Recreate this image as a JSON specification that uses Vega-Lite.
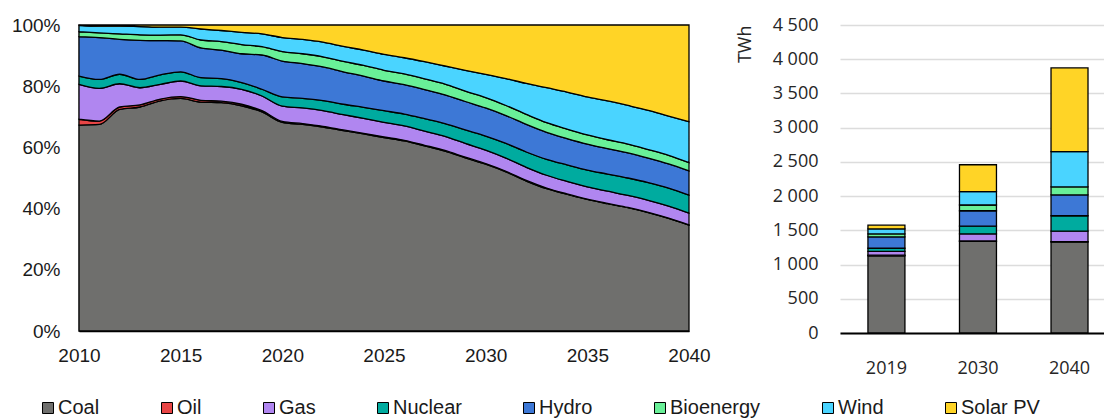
{
  "$schema": "https://vega.github.io/schema/vega-lite/v6.json",
  "background": "white",
  "padding": {"left": 11, "top": 16, "right": 0, "bottom": 0},
  "bounds": "flush",
  "spacing": 151,
  "config": {"view": {"stroke": null}, "font": "Liberation Sans"},
  "datasets": {
    "order": [
      {"source": "Coal", "rank": 1}, {"source": "Oil", "rank": 2}, {"source": "Gas", "rank": 3}, {"source": "Nuclear", "rank": 4},
      {"source": "Hydro", "rank": 5}, {"source": "Bioenergy", "rank": 6}, {"source": "Wind", "rank": 7}, {"source": "Solar PV", "rank": 8}
    ],
    "shares": [
      {"year":2010,"source":"Coal","share":67.3},{"year":2010,"source":"Oil","share":1.9},{"year":2010,"source":"Gas","share":11.4},{"year":2010,"source":"Nuclear","share":2.7},{"year":2010,"source":"Hydro","share":12.9},{"year":2010,"source":"Bioenergy","share":1.6},{"year":2010,"source":"Wind","share":2.1},{"year":2010,"source":"Solar PV","share":0.1},
      {"year":2011,"source":"Coal","share":67.5},{"year":2011,"source":"Oil","share":1.1},{"year":2011,"source":"Gas","share":10.7},{"year":2011,"source":"Nuclear","share":2.9},{"year":2011,"source":"Hydro","share":13.7},{"year":2011,"source":"Bioenergy","share":1.5},{"year":2011,"source":"Wind","share":2.2},{"year":2011,"source":"Solar PV","share":0.4},
      {"year":2012,"source":"Coal","share":72.4},{"year":2012,"source":"Oil","share":0.8},{"year":2012,"source":"Gas","share":7.6},{"year":2012,"source":"Nuclear","share":3.1},{"year":2012,"source":"Hydro","share":11.4},{"year":2012,"source":"Bioenergy","share":1.8},{"year":2012,"source":"Wind","share":2.5},{"year":2012,"source":"Solar PV","share":0.4},
      {"year":2013,"source":"Coal","share":73.2},{"year":2013,"source":"Oil","share":0.7},{"year":2013,"source":"Gas","share":5.6},{"year":2013,"source":"Nuclear","share":2.7},{"year":2013,"source":"Hydro","share":12.8},{"year":2013,"source":"Bioenergy","share":1.8},{"year":2013,"source":"Wind","share":2.7},{"year":2013,"source":"Solar PV","share":0.5},
      {"year":2014,"source":"Coal","share":75.2},{"year":2014,"source":"Oil","share":0.6},{"year":2014,"source":"Gas","share":4.8},{"year":2014,"source":"Nuclear","share":3.1},{"year":2014,"source":"Hydro","share":11.2},{"year":2014,"source":"Bioenergy","share":1.8},{"year":2014,"source":"Wind","share":2.6},{"year":2014,"source":"Solar PV","share":0.7},
      {"year":2015,"source":"Coal","share":76.0},{"year":2015,"source":"Oil","share":0.6},{"year":2015,"source":"Gas","share":5.1},{"year":2015,"source":"Nuclear","share":3.0},{"year":2015,"source":"Hydro","share":10.1},{"year":2015,"source":"Bioenergy","share":2.0},{"year":2015,"source":"Wind","share":2.5},{"year":2015,"source":"Solar PV","share":0.7},
      {"year":2016,"source":"Coal","share":74.8},{"year":2016,"source":"Oil","share":0.6},{"year":2016,"source":"Gas","share":4.7},{"year":2016,"source":"Nuclear","share":2.7},{"year":2016,"source":"Hydro","share":9.7},{"year":2016,"source":"Bioenergy","share":2.6},{"year":2016,"source":"Wind","share":3.6},{"year":2016,"source":"Solar PV","share":1.3},
      {"year":2017,"source":"Coal","share":74.6},{"year":2017,"source":"Oil","share":0.5},{"year":2017,"source":"Gas","share":4.8},{"year":2017,"source":"Nuclear","share":2.6},{"year":2017,"source":"Hydro","share":9.3},{"year":2017,"source":"Bioenergy","share":2.8},{"year":2017,"source":"Wind","share":3.6},{"year":2017,"source":"Solar PV","share":1.8},
      {"year":2018,"source":"Coal","share":73.6},{"year":2018,"source":"Oil","share":0.5},{"year":2018,"source":"Gas","share":4.9},{"year":2018,"source":"Nuclear","share":2.2},{"year":2018,"source":"Hydro","share":9.4},{"year":2018,"source":"Bioenergy","share":3.0},{"year":2018,"source":"Wind","share":4.0},{"year":2018,"source":"Solar PV","share":2.4},
      {"year":2019,"source":"Coal","share":71.6},{"year":2019,"source":"Oil","share":0.4},{"year":2019,"source":"Gas","share":4.8},{"year":2019,"source":"Nuclear","share":2.2},{"year":2019,"source":"Hydro","share":11.2},{"year":2019,"source":"Bioenergy","share":2.7},{"year":2019,"source":"Wind","share":4.2},{"year":2019,"source":"Solar PV","share":2.9},
      {"year":2020,"source":"Coal","share":68.2},{"year":2020,"source":"Oil","share":0.3},{"year":2020,"source":"Gas","share":5.0},{"year":2020,"source":"Nuclear","share":3.0},{"year":2020,"source":"Hydro","share":11.7},{"year":2020,"source":"Bioenergy","share":3.1},{"year":2020,"source":"Wind","share":4.6},{"year":2020,"source":"Solar PV","share":4.1},
      {"year":2021,"source":"Coal","share":67.5},{"year":2021,"source":"Oil","share":0.3},{"year":2021,"source":"Gas","share":5.1},{"year":2021,"source":"Nuclear","share":3.1},{"year":2021,"source":"Hydro","share":11.4},{"year":2021,"source":"Bioenergy","share":3.2},{"year":2021,"source":"Wind","share":4.7},{"year":2021,"source":"Solar PV","share":4.7},
      {"year":2022,"source":"Coal","share":66.6},{"year":2022,"source":"Oil","share":0.3},{"year":2022,"source":"Gas","share":5.1},{"year":2022,"source":"Nuclear","share":3.3},{"year":2022,"source":"Hydro","share":11.0},{"year":2022,"source":"Bioenergy","share":3.3},{"year":2022,"source":"Wind","share":4.8},{"year":2022,"source":"Solar PV","share":5.6},
      {"year":2023,"source":"Coal","share":65.5},{"year":2023,"source":"Oil","share":0.2},{"year":2023,"source":"Gas","share":5.0},{"year":2023,"source":"Nuclear","share":3.4},{"year":2023,"source":"Hydro","share":10.6},{"year":2023,"source":"Bioenergy","share":3.4},{"year":2023,"source":"Wind","share":4.9},{"year":2023,"source":"Solar PV","share":7.0},
      {"year":2024,"source":"Coal","share":64.4},{"year":2024,"source":"Oil","share":0.2},{"year":2024,"source":"Gas","share":4.9},{"year":2024,"source":"Nuclear","share":3.6},{"year":2024,"source":"Hydro","share":10.2},{"year":2024,"source":"Bioenergy","share":3.5},{"year":2024,"source":"Wind","share":5.0},{"year":2024,"source":"Solar PV","share":8.2},
      {"year":2025,"source":"Coal","share":63.2},{"year":2025,"source":"Oil","share":0.2},{"year":2025,"source":"Gas","share":4.8},{"year":2025,"source":"Nuclear","share":3.8},{"year":2025,"source":"Hydro","share":9.7},{"year":2025,"source":"Bioenergy","share":3.5},{"year":2025,"source":"Wind","share":5.2},{"year":2025,"source":"Solar PV","share":9.6},
      {"year":2026,"source":"Coal","share":62.1},{"year":2026,"source":"Oil","share":0.2},{"year":2026,"source":"Gas","share":4.7},{"year":2026,"source":"Nuclear","share":3.9},{"year":2026,"source":"Hydro","share":9.6},{"year":2026,"source":"Bioenergy","share":3.5},{"year":2026,"source":"Wind","share":5.3},{"year":2026,"source":"Solar PV","share":10.7},
      {"year":2027,"source":"Coal","share":60.5},{"year":2027,"source":"Oil","share":0.2},{"year":2027,"source":"Gas","share":4.6},{"year":2027,"source":"Nuclear","share":4.1},{"year":2027,"source":"Hydro","share":9.5},{"year":2027,"source":"Bioenergy","share":3.5},{"year":2027,"source":"Wind","share":5.6},{"year":2027,"source":"Solar PV","share":12.0},
      {"year":2028,"source":"Coal","share":58.8},{"year":2028,"source":"Oil","share":0.2},{"year":2028,"source":"Gas","share":4.6},{"year":2028,"source":"Nuclear","share":4.2},{"year":2028,"source":"Hydro","share":9.4},{"year":2028,"source":"Bioenergy","share":3.5},{"year":2028,"source":"Wind","share":5.9},{"year":2028,"source":"Solar PV","share":13.4},
      {"year":2029,"source":"Coal","share":56.6},{"year":2029,"source":"Oil","share":0.2},{"year":2029,"source":"Gas","share":4.5},{"year":2029,"source":"Nuclear","share":4.4},{"year":2029,"source":"Hydro","share":9.3},{"year":2029,"source":"Bioenergy","share":3.4},{"year":2029,"source":"Wind","share":6.8},{"year":2029,"source":"Solar PV","share":14.8},
      {"year":2030,"source":"Coal","share":54.5},{"year":2030,"source":"Oil","share":0.2},{"year":2030,"source":"Gas","share":4.4},{"year":2030,"source":"Nuclear","share":4.6},{"year":2030,"source":"Hydro","share":9.2},{"year":2030,"source":"Bioenergy","share":3.4},{"year":2030,"source":"Wind","share":7.6},{"year":2030,"source":"Solar PV","share":16.1},
      {"year":2031,"source":"Coal","share":52.0},{"year":2031,"source":"Oil","share":0.2},{"year":2031,"source":"Gas","share":4.3},{"year":2031,"source":"Nuclear","share":4.8},{"year":2031,"source":"Hydro","share":9.1},{"year":2031,"source":"Bioenergy","share":3.3},{"year":2031,"source":"Wind","share":8.8},{"year":2031,"source":"Solar PV","share":17.5},
      {"year":2032,"source":"Coal","share":49.0},{"year":2032,"source":"Oil","share":0.2},{"year":2032,"source":"Gas","share":4.3},{"year":2032,"source":"Nuclear","share":5.0},{"year":2032,"source":"Hydro","share":9.0},{"year":2032,"source":"Bioenergy","share":3.3},{"year":2032,"source":"Wind","share":10.1},{"year":2032,"source":"Solar PV","share":19.1},
      {"year":2033,"source":"Coal","share":46.5},{"year":2033,"source":"Oil","share":0.2},{"year":2033,"source":"Gas","share":4.2},{"year":2033,"source":"Nuclear","share":5.2},{"year":2033,"source":"Hydro","share":8.8},{"year":2033,"source":"Bioenergy","share":3.2},{"year":2033,"source":"Wind","share":11.4},{"year":2033,"source":"Solar PV","share":20.5},
      {"year":2034,"source":"Coal","share":44.7},{"year":2034,"source":"Oil","share":0.1},{"year":2034,"source":"Gas","share":4.1},{"year":2034,"source":"Nuclear","share":5.4},{"year":2034,"source":"Hydro","share":8.6},{"year":2034,"source":"Bioenergy","share":3.1},{"year":2034,"source":"Wind","share":12.1},{"year":2034,"source":"Solar PV","share":21.9},
      {"year":2035,"source":"Coal","share":43.0},{"year":2035,"source":"Oil","share":0.1},{"year":2035,"source":"Gas","share":4.0},{"year":2035,"source":"Nuclear","share":5.5},{"year":2035,"source":"Hydro","share":8.5},{"year":2035,"source":"Bioenergy","share":3.0},{"year":2035,"source":"Wind","share":12.4},{"year":2035,"source":"Solar PV","share":23.5},
      {"year":2036,"source":"Coal","share":41.6},{"year":2036,"source":"Oil","share":0.1},{"year":2036,"source":"Gas","share":4.0},{"year":2036,"source":"Nuclear","share":5.6},{"year":2036,"source":"Hydro","share":8.3},{"year":2036,"source":"Bioenergy","share":2.9},{"year":2036,"source":"Wind","share":12.7},{"year":2036,"source":"Solar PV","share":24.8},
      {"year":2037,"source":"Coal","share":40.3},{"year":2037,"source":"Oil","share":0.1},{"year":2037,"source":"Gas","share":3.9},{"year":2037,"source":"Nuclear","share":5.7},{"year":2037,"source":"Hydro","share":8.2},{"year":2037,"source":"Bioenergy","share":2.9},{"year":2037,"source":"Wind","share":12.6},{"year":2037,"source":"Solar PV","share":26.3},
      {"year":2038,"source":"Coal","share":38.7},{"year":2038,"source":"Oil","share":0.1},{"year":2038,"source":"Gas","share":3.9},{"year":2038,"source":"Nuclear","share":5.8},{"year":2038,"source":"Hydro","share":8.0},{"year":2038,"source":"Bioenergy","share":2.8},{"year":2038,"source":"Wind","share":12.8},{"year":2038,"source":"Solar PV","share":27.9},
      {"year":2039,"source":"Coal","share":36.8},{"year":2039,"source":"Oil","share":0.1},{"year":2039,"source":"Gas","share":3.9},{"year":2039,"source":"Nuclear","share":5.9},{"year":2039,"source":"Hydro","share":7.9},{"year":2039,"source":"Bioenergy","share":2.8},{"year":2039,"source":"Wind","share":12.8},{"year":2039,"source":"Solar PV","share":29.8},
      {"year":2040,"source":"Coal","share":34.6},{"year":2040,"source":"Oil","share":0.1},{"year":2040,"source":"Gas","share":3.8},{"year":2040,"source":"Nuclear","share":5.9},{"year":2040,"source":"Hydro","share":7.9},{"year":2040,"source":"Bioenergy","share":2.7},{"year":2040,"source":"Wind","share":13.4},{"year":2040,"source":"Solar PV","share":31.6}
    ],
    "twh": [
      {"period":"2019","source":"Coal","twh":1129},{"period":"2019","source":"Oil","twh":8},{"period":"2019","source":"Gas","twh":57},{"period":"2019","source":"Nuclear","twh":44},{"period":"2019","source":"Hydro","twh":166},{"period":"2019","source":"Bioenergy","twh":44},{"period":"2019","source":"Wind","twh":73},{"period":"2019","source":"Solar PV","twh":55},
      {"period":"2030","source":"Coal","twh":1340},{"period":"2030","source":"Oil","twh":5},{"period":"2030","source":"Gas","twh":103},{"period":"2030","source":"Nuclear","twh":113},{"period":"2030","source":"Hydro","twh":225},{"period":"2030","source":"Bioenergy","twh":84},{"period":"2030","source":"Wind","twh":195},{"period":"2030","source":"Solar PV","twh":393},
      {"period":"2040","source":"Coal","twh":1330},{"period":"2040","source":"Oil","twh":3},{"period":"2040","source":"Gas","twh":155},{"period":"2040","source":"Nuclear","twh":225},{"period":"2040","source":"Hydro","twh":304},{"period":"2040","source":"Bioenergy","twh":117},{"period":"2040","source":"Wind","twh":515},{"period":"2040","source":"Solar PV","twh":1224}
    ]
  },
  "resolve": {"scale": {"color": "shared"}, "legend": {"color": "shared"}},
  "hconcat": [
    {
      "width": 610,
      "height": 306,
      "data": {"name": "shares"},
      "transform": [{"lookup": "source", "from": {"data": {"name": "order"}, "key": "source", "fields": ["rank"]}}],
      "mark": {"type": "area", "stroke": "black", "strokeWidth": 1.3, "interpolate": "monotone", "opacity": 1},
      "encoding": {
        "x": {"field": "year", "type": "quantitative", "scale": {"domain": [2010, 2040], "nice": false, "zero": false},
          "axis": {"title": null, "values": [2010, 2015, 2020, 2025, 2030, 2035, 2040], "format": "d", "grid": false, "ticks": false,
            "domainColor": "black", "domainWidth": 1.5, "labelFont": "Liberation Sans", "labelFontSize": 19, "labelColor": "#1a1a1a", "labelPadding": 15, "labelFlush": false}},
        "y": {"field": "share", "type": "quantitative", "stack": "normalize",
          "axis": {"title": null, "values": [0, 0.2, 0.4, 0.6, 0.8, 1], "format": ".0%", "grid": false, "ticks": false,
            "domainColor": "black", "domainWidth": 1.5, "labelFont": "Liberation Sans", "labelFontSize": 19, "labelColor": "#1a1a1a", "labelPadding": 19}},
        "order": {"field": "rank", "type": "quantitative"},
        "color": {"field": "source", "type": "nominal",
          "scale": {"domain": ["Coal", "Oil", "Gas", "Nuclear", "Hydro", "Bioenergy", "Wind", "Solar PV"],
                    "range": ["#6f6f6d", "#e84545", "#b086f0", "#00ab9f", "#3d78d6", "#69f098", "#4ad4ff", "#ffd426"]},
          "legend": {"title": null, "orient": "none", "legendX": -41, "legendY": 373, "direction": "horizontal", "columns": 8, "columnPadding": 57,
            "symbolType": "square", "symbolSize": 121, "symbolStrokeColor": "black", "symbolStrokeWidth": 1, "symbolOpacity": 1,
            "labelFont": "Liberation Sans", "labelFontSize": 20, "labelColor": "#1a1a1a", "labelOffset": 0}}
      }
    },
    {
      "width": 264,
      "height": 308,
      "data": {"name": "twh"},
      "transform": [{"lookup": "source", "from": {"data": {"name": "order"}, "key": "source", "fields": ["rank"]}}],
      "mark": {"type": "bar", "stroke": "black", "strokeWidth": 1.3},
      "encoding": {
        "x": {"field": "period", "type": "ordinal", "scale": {"paddingInner": 0.596, "paddingOuter": 0.24, "align": 0.636},
          "axis": {"title": null, "labelAngle": 0, "ticks": false, "domainColor": "black", "domainWidth": 2, "labelFont": "Open Sans", "labelFontSize": 18, "labelColor": "#262626", "labelPadding": 26}},
        "y": {"field": "twh", "type": "quantitative", "stack": "zero", "scale": {"domain": [0, 4500], "nice": false},
          "axis": {"title": "TWh", "titleFont": "Open Sans", "titleFontSize": 18, "titleFontWeight": "normal", "titleColor": "#262626", "titleAnchor": "end", "titlePadding": 18,
            "values": [0, 500, 1000, 1500, 2000, 2500, 3000, 3500, 4000, 4500], "labelExpr": "replace(format(datum.value, ','), ',', ' ')",
            "domain": false, "ticks": false, "grid": true, "gridColor": "#dcdcdc", "gridWidth": 1.5,
            "labelFont": "Open Sans", "labelFontSize": 18, "labelColor": "#262626", "labelPadding": 22}},
        "order": {"field": "rank", "type": "quantitative"},
        "color": {"field": "source", "type": "nominal",
          "legend": {"title": null, "orient": "none", "legendX": -41, "legendY": 373, "direction": "horizontal", "columns": 8, "columnPadding": 57,
            "symbolType": "square", "symbolSize": 121, "symbolStrokeColor": "black", "symbolStrokeWidth": 1, "symbolOpacity": 1,
            "labelFont": "Liberation Sans", "labelFontSize": 20, "labelColor": "#1a1a1a", "labelOffset": 0}}
      }
    }
  ]
}
